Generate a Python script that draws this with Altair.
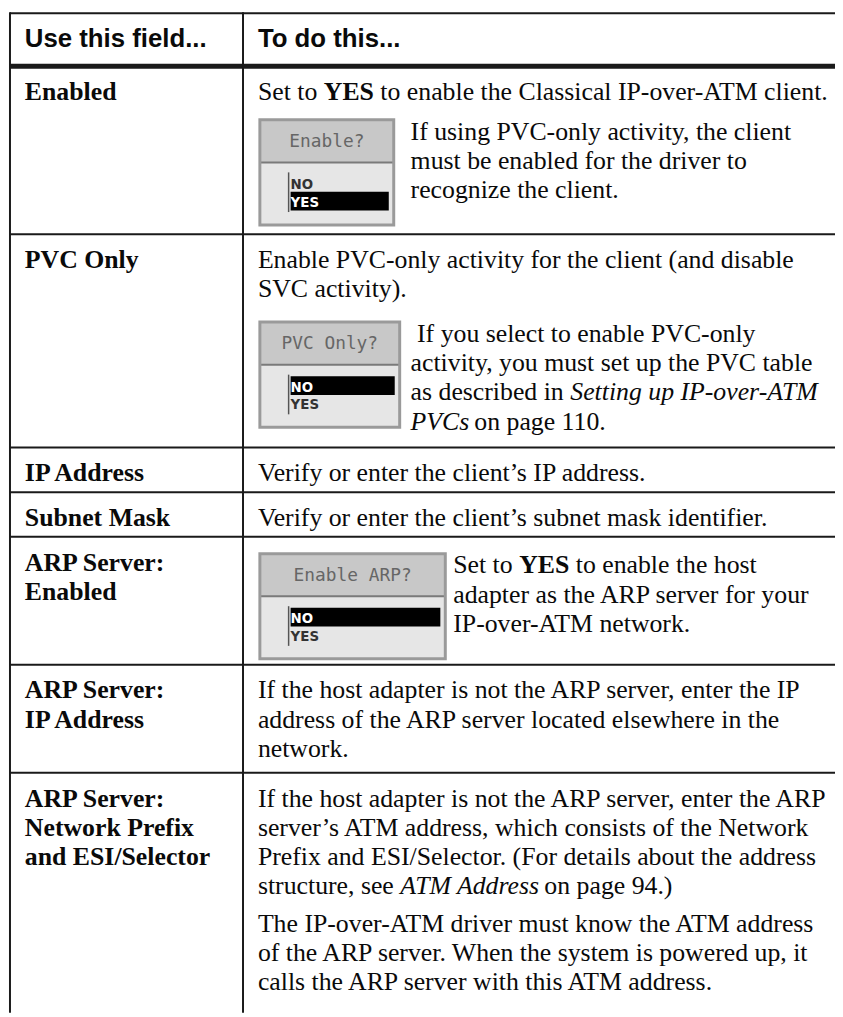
import altair as alt
import pandas as pd

# ---------------- content ----------------
HEADER = ["Use this field...", "To do this..."]

FIELDS = [["Enabled"], ["PVC Only"], ["IP Address"], ["Subnet Mask"],
          ["ARP Server:", "Enabled"], ["ARP Server:", "IP Address"],
          ["ARP Server:", "Network Prefix", "and ESI/Selector"]]

R, B, I = "r", "b", "i"
INTRO = [
    [[("Set to ", R), ("YES", B), (" to enable the Classical IP-over-ATM client.", R)]],
    [[("Enable PVC-only activity for the client (and disable", R)], [("SVC activity).", R)]],
    [[("Verify or enter the client\u2019s IP address.", R)]],
    [[("Verify or enter the client\u2019s subnet mask identifier.", R)]],
    [],
    [[("If the host adapter is not the ARP server, enter the IP", R)],
     [("address of the ARP server located elsewhere in the", R)],
     [("network.", R)]],
    [[("If the host adapter is not the ARP server, enter the ARP", R)],
     [("server\u2019s ATM address, which consists of the Network", R)],
     [("Prefix and ESI/Selector. (For details about the address", R)],
     [("structure, see ", R), ("ATM Address", I), (" on page 94.)", R)]],
]
SIDE = [
    [[("If using PVC-only activity, the client", R)],
     [("must be enabled for the driver to", R)],
     [("recognize the client.", R)]],
    [[(" If you select to enable PVC-only", R)],
     [("activity, you must set up the PVC table", R)],
     [("as described in ", R), ("Setting up IP-over-ATM", I)],
     [("PVCs", I), (" on page 110.", R)]],
    None, None,
    [[("Set to ", R), ("YES", B), (" to enable the host", R)],
     [("adapter as the ARP server for your", R)],
     [("IP-over-ATM network.", R)]],
    None, None,
]
OUTRO = [None, None, None, None, None, None,
         [[("The IP-over-ATM driver must know the ATM address", R)],
          [("of the ARP server. When the system is powered up, it", R)],
          [("calls the ARP server with this ATM address.", R)]]]

WIDGET_TITLES = ["Enable?", "PVC Only?", None, None, "Enable ARP?", None, None]
OPTIONS = ["NO", "YES"]
SELECTED = ["YES", "NO", None, None, "NO", None, None]

# ---------------- layout ----------------
ROW_TOPS = [62.5, 232, 447, 492, 537, 666, 775]
TOP_LINE, BOTTOM = 9, 1017
X_BORDER, X_DIV, X_END = 10, 245, 843
LH, FIRST, PARA, W_H, BAND = 29.5, 34, 8.5, 106, 43
W_GAP = {0: 20, 1: 25, 4: 0}
XL_TEXT, XR_TEXT, W_LEFT = 25, 260, 262
WIDGET_W = {0: 135, 1: 141, 4: 187}
SIDE_X = {0: 414, 1: 414, 4: 457}
FS = 26

UP = "ABCDEFGHIJKLMNOPQRSTUVWXYZ"
LO = "abcdefghijklmnopqrstuvwxyz"


def table(up, lo, extra):
    d = dict(zip(UP, up))
    d.update(zip(LO, lo))
    d.update(extra)
    for c in "0123456789":
        d.setdefault(c, 500)
    return d


TIMES = {
    "r": table([722, 667, 667, 722, 611, 556, 722, 722, 333, 389, 722, 611, 889, 722, 722, 556, 722, 667, 556, 611, 722, 722, 944, 722, 722, 611],
               [444, 500, 444, 500, 444, 333, 500, 500, 278, 278, 500, 278, 778, 500, 500, 500, 500, 333, 389, 278, 500, 500, 722, 500, 500, 444],
               {" ": 250, "!": 333, "(": 333, ")": 333, ",": 250, "-": 333, ".": 250, "/": 278, ":": 278, "?": 444, "\u2019": 333}),
    "b": table([722, 667, 722, 722, 667, 611, 778, 778, 389, 500, 778, 667, 944, 722, 778, 611, 778, 722, 556, 667, 722, 722, 1000, 722, 722, 667],
               [500, 556, 444, 556, 444, 333, 500, 556, 278, 333, 556, 278, 833, 556, 500, 556, 556, 444, 389, 333, 556, 500, 722, 500, 500, 444],
               {" ": 250, "-": 333, ".": 250, ",": 250}),
    "i": table([611, 611, 667, 722, 611, 611, 722, 722, 333, 444, 667, 556, 833, 667, 722, 611, 722, 611, 500, 556, 722, 611, 833, 611, 556, 556],
               [500, 500, 444, 500, 444, 278, 500, 500, 278, 278, 444, 278, 722, 500, 500, 500, 500, 389, 389, 278, 500, 444, 667, 444, 444, 389],
               {" ": 250, "-": 333, ".": 250, ",": 250}),
}
KERN = {"r": 1.0, "b": 1.0, "i": 0.975}


def text_width(s, st):
    return sum(TIMES[st].get(c, 500) for c in s) / 1000 * FS * KERN[st]


texts = {"r": [], "b": [], "i": [], "lb": [], "hb": [], "wt": [], "wo": [], "ws": []}
rules, fills, borders = [], [], []


def put_line(segs, x0, y):
    # Vega trims each string, so blanks at segment ends become x offsets
    x = x0
    for s, st in segs:
        lead = s[:len(s) - len(s.lstrip(" "))]
        texts[st].append({"x": x + text_width(lead, st), "y": y, "t": s.strip(" ")})
        x += text_width(s, st)


def widget(r, left, top):
    w = WIDGET_W[r]
    right, bottom = left + w, top + W_H
    fills.append({"x": left, "x2": right, "y": top, "y2": bottom, "c": "#e6e6e6"})
    fills.append({"x": left, "x2": right, "y": top, "y2": top + BAND, "c": "#c8c8c8"})
    rules.append({"x": left, "x2": right, "y": top + BAND, "y2": top + BAND, "w": 2, "c": "#7a7a7a"})
    texts["wt"].append({"x": left + w / 2, "y": top + BAND / 2 + 6, "t": WIDGET_TITLES[r]})
    body = top + BAND
    rules.append({"x": left + 29, "x2": left + 29, "y": body + 10, "y2": body + 50, "w": 1.5, "c": "#555555"})
    for k, opt in enumerate(OPTIONS):
        cy = body + 21 + 18 * k
        if opt == SELECTED[r]:
            fills.append({"x": left + 31, "x2": right - 5, "y": cy - 9.5, "y2": cy + 9.5, "c": "#000000"})
            texts["ws"].append({"x": left + 31, "y": cy + 6, "t": opt})
        else:
            texts["wo"].append({"x": left + 31, "y": cy + 6, "t": opt})
    borders.append({"x": left, "x2": right, "y": top, "y2": bottom})


# header
texts["hb"].append({"x": XL_TEXT, "y": 43, "t": HEADER[0]})
texts["hb"].append({"x": XR_TEXT, "y": 43, "t": HEADER[1]})

for r, top in enumerate(ROW_TOPS):
    y0 = top + FIRST
    for k, ln in enumerate(FIELDS[r]):
        texts["lb"].append({"x": XL_TEXT, "y": y0 + k * LH, "t": ln})
    cur = y0
    for ln in INTRO[r]:
        put_line(ln, XR_TEXT, cur)
        cur += LH
    if WIDGET_TITLES[r]:
        wtop = (cur - LH + W_GAP[r]) if INTRO[r] else top + 17
        widget(r, W_LEFT, wtop)
        for k, ln in enumerate(SIDE[r]):
            put_line(ln, SIDE_X[r], wtop + 20 + k * LH)
    if OUTRO[r]:
        cur += PARA
        for ln in OUTRO[r]:
            put_line(ln, XR_TEXT, cur)
            cur += LH

# table lines
rules.append({"x": X_BORDER, "x2": X_END, "y": TOP_LINE, "y2": TOP_LINE, "w": 2, "c": "#1a1a1a"})
for k, top in enumerate(ROW_TOPS):
    rules.append({"x": X_BORDER, "x2": X_END, "y": top, "y2": top, "w": 5 if k == 0 else 2, "c": "#1a1a1a"})
rules.append({"x": X_BORDER, "x2": X_BORDER, "y": TOP_LINE - 1, "y2": BOTTOM, "w": 2, "c": "#1a1a1a"})
rules.append({"x": X_DIV, "x2": X_DIV, "y": TOP_LINE - 1, "y2": BOTTOM, "w": 2, "c": "#1a1a1a"})

XS = alt.Scale(domain=[8, 842], nice=False, zero=False)
YS = alt.Scale(domain=[8, 1016], nice=False, zero=False, reverse=True)


def pos2():
    return dict(x=alt.X("x:Q", scale=XS, axis=None), x2="x2:Q",
                y=alt.Y("y:Q", scale=YS, axis=None), y2="y2:Q")


fill_layer = alt.Chart(pd.DataFrame(fills)).mark_rect().encode(
    **pos2(), color=alt.Color("c:N", scale=None, legend=None))
border_layer = alt.Chart(pd.DataFrame(borders)).mark_rect(
    fillOpacity=0, stroke="#9a9a9a", strokeWidth=3).encode(**pos2())
rule_layer = alt.Chart(pd.DataFrame(rules)).mark_rule().encode(
    **pos2(), size=alt.Size("w:Q", scale=None, legend=None),
    color=alt.Color("c:N", scale=None, legend=None))

STYLES = {
    "r": dict(font="Liberation Serif", fontSize=FS, color="#0a0a0a"),
    "b": dict(font="Liberation Serif", fontSize=FS, fontWeight="bold", color="#0a0a0a"),
    "i": dict(font="Liberation Serif", fontSize=FS, fontStyle="italic", color="#0a0a0a"),
    "lb": dict(font="Liberation Serif", fontSize=FS, fontWeight="bold", color="#0a0a0a"),
    "hb": dict(font="Liberation Sans", fontSize=26, fontWeight="bold", color="#0a0a0a"),
    "wt": dict(font="DejaVu Sans Mono", fontSize=18, color="#666666", align="center"),
    "wo": dict(font="Liberation Sans Narrow, DejaVu Sans Condensed", fontSize=15, fontWeight="bold", color="#333333"),
    "ws": dict(font="Liberation Sans Narrow, DejaVu Sans Condensed", fontSize=15, fontWeight="bold", color="#ffffff"),
}

text_layers = []
for kind, rows in texts.items():
    if not rows:
        continue
    st = dict(align="left", baseline="alphabetic")
    st.update(STYLES[kind])
    text_layers.append(
        alt.Chart(pd.DataFrame(rows)).mark_text(**st).encode(
            x=alt.X("x:Q", scale=XS, axis=None),
            y=alt.Y("y:Q", scale=YS, axis=None),
            text="t:N"))

chart = alt.layer(fill_layer, rule_layer, border_layer, *text_layers).properties(
    width=834, height=1008, padding=0,
    autosize=alt.AutoSizeParams(type="none"),
    background="#ffffff",
).configure_view(stroke=None)

chart.save("out.html", embed_options={"renderer": "svg", "actions": False})
